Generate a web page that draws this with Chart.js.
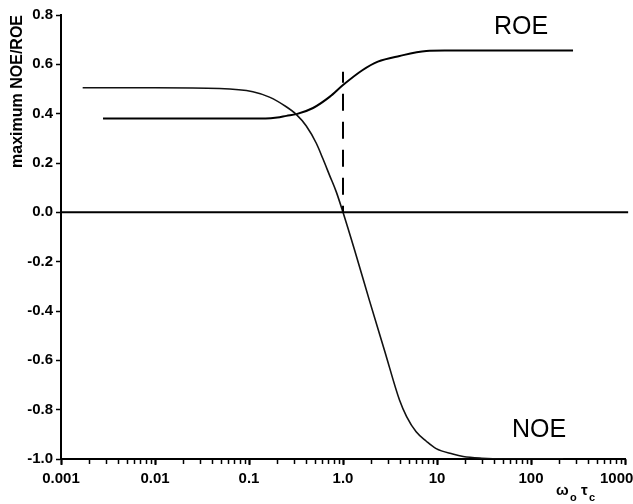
<!DOCTYPE html>
<html>
<head>
<meta charset="utf-8">
<script src="https://cdn.jsdelivr.net/npm/chart.js@4/dist/chart.umd.min.js"></script>
<style>
html,body{margin:0;padding:0;background:#fff;}
canvas{display:block;}
</style>
</head>
<body>
<canvas id="c" width="633" height="504"></canvas>
<script>
// ---- data ----
const noeX = [0.0017, 0.01, 0.0485, 0.11, 0.165, 0.249, 0.318, 0.407, 0.52, 0.61, 0.72, 0.85, 1.0, 1.33, 1.92, 2.77, 4.0, 4.75, 6.0, 7.7, 9.8, 14.7, 19, 30, 50, 220];
const noeY = [0.505, 0.505, 0.502, 0.489, 0.467, 0.428, 0.397, 0.350, 0.280, 0.218, 0.150, 0.082, 0.000, -0.154, -0.360, -0.561, -0.762, -0.828, -0.890, -0.928, -0.958, -0.980, -0.990, -0.997, -1.000, -1.000];
const roeX = [0.0028, 0.05, 0.15, 0.2, 0.25, 0.32, 0.48, 0.72, 1.0, 1.62, 2.35, 4.0, 7.7, 12, 280];
const roeY = [0.380, 0.380, 0.380, 0.384, 0.391, 0.398, 0.423, 0.468, 0.516, 0.577, 0.611, 0.634, 0.654, 0.656, 0.656];
const zeroLineX = [0.001, 1080];
const zeroLineY = [0, 0];
const markerX = [1.0, 1.0];
const markerY = [0.57, 0];
const xTickValues = [0.001, 0.01, 0.1, 1, 10, 100, 1000];
const xTickLabels = ['0.001', '0.01', '0.1', '1.0', '10', '100', '1000    '];
const xMinorMultipliers = [2, 3, 4, 5, 6, 7, 8, 9];
const yTickValues = [0.8, 0.6, 0.4, 0.2, 0, -0.2, -0.4, -0.6, -0.8, -1.0];
const yTickLabels = ['0.8', '0.6', '0.4', '0.2', '0.0', '-0.2', '-0.4', '-0.6', '-0.8', '-1.0'];
const yTitle = 'maximum NOE/ROE';
const curveLabels = ['ROE', 'NOE'];

const pts = (xs, ys) => xs.map((x, i) => ({x: x, y: ys[i]}));
const FONT = '"Liberation Sans", Arial, Helvetica, sans-serif';

// tick marks on the log axis, positioned through the x scale
const xTickMarks = {
  id: 'xTickMarks',
  afterDraw(chart) {
    const ctx = chart.ctx;
    const xs = chart.scales.x;
    const base = chart.chartArea.bottom;
    ctx.save();
    ctx.strokeStyle = '#000';
    xTickValues.forEach((v, i) => {
      const px = Math.round(xs.getPixelForValue(v)) + 0.5;
      ctx.lineWidth = 2;
      ctx.beginPath(); ctx.moveTo(px, base); ctx.lineTo(px, base + 6); ctx.stroke();
      if (i < xTickValues.length - 1) {
        xMinorMultipliers.forEach(m => {
          const p = Math.round(xs.getPixelForValue(v * m)) + 0.5;
          ctx.lineWidth = 1.5;
          ctx.beginPath(); ctx.moveTo(p, base); ctx.lineTo(p, base + 5); ctx.stroke();
        });
      }
    });
    ctx.restore();
  }
};

const textPlugin = {
  id: 'texts',
  afterDraw(chart) {
    const ctx = chart.ctx;
    ctx.save();
    ctx.fillStyle = '#000';
    ctx.textBaseline = 'alphabetic';
    ctx.textAlign = 'left';
    ctx.font = '25px ' + FONT;
    ctx.fillText(curveLabels[0], 494, 34);
    ctx.fillText(curveLabels[1], 512, 437);
    // x axis title: omega_o tau_c
    ctx.font = 'bold 15px ' + FONT;
    ctx.fillText('\u03C9', 556, 495);
    ctx.font = 'bold 11px ' + FONT;
    ctx.fillText('o', 570, 501);
    ctx.font = 'bold 15px ' + FONT;
    ctx.fillText('\u03C4', 581, 495);
    ctx.font = 'bold 11px ' + FONT;
    ctx.fillText('c', 589, 501);
    ctx.restore();
  }
};

new Chart(document.getElementById('c'), {
  type: 'line',
  data: {
    datasets: [
      {data: pts(zeroLineX, zeroLineY), borderColor: '#000', borderWidth: 2, pointRadius: 0, clip: false},
      {data: pts(markerX, markerY), borderColor: '#000', borderWidth: 2, pointRadius: 0, borderDash: [17, 11], borderDashOffset: 6},
      {data: pts(noeX, noeY), borderColor: '#111', borderWidth: 1.6, pointRadius: 0, cubicInterpolationMode: 'monotone'},
      {data: pts(roeX, roeY), borderColor: '#000', borderWidth: 2, pointRadius: 0, cubicInterpolationMode: 'monotone'}
    ]
  },
  options: {
    responsive: false,
    animation: false,
    devicePixelRatio: 1,
    layout: {padding: {top: 15, right: 8, left: 0, bottom: 0}},
    plugins: {legend: {display: false}, tooltip: {enabled: false}},
    scales: {
      x: {
        type: 'logarithmic',
        min: 0.001,
        max: 1000,
        border: {display: true, color: '#000', width: 2},
        grid: {
          display: true,
          drawOnChartArea: false,
          drawTicks: true,
          tickLength: 5,
          tickColor: '#000',
          tickWidth: 1.5
        },
        afterBuildTicks(scale) {
          scale.ticks = xTickValues.map(v => ({value: v}));
        },
        afterFit(scale) {
          scale.height = 45;
          scale.paddingLeft = 0;
          scale.paddingRight = 0;
        },
        ticks: {
          autoSkip: false,
          maxRotation: 0,
          minRotation: 0,
          padding: 6,
          color: '#000',
          font: {family: FONT, size: 15, weight: 'bold'},
          callback(value, index) {
            return xTickLabels[index];
          }
        }
      },
      y: {
        type: 'linear',
        min: -1.0,
        max: 0.8,
        border: {display: true, color: '#000', width: 2},
        grid: {drawOnChartArea: false, drawTicks: true, tickLength: 5, tickColor: '#000', tickWidth: 1.5},
        afterBuildTicks(scale) {
          scale.ticks = yTickValues.map(v => ({value: v}));
        },
        afterFit(scale) {
          scale.width = 61;
        },
        ticks: {
          padding: 3,
          color: '#000',
          font: {family: FONT, size: 15, weight: 'bold'},
          callback(value, index) {
            return yTickLabels[index];
          }
        },
        title: {
          display: true,
          text: yTitle,
          align: 'end',
          color: '#000',
          font: {family: FONT, size: 16, weight: 'bold'},
          padding: {top: 8, bottom: 0}
        }
      }
    }
  },
  plugins: [xTickMarks, textPlugin]
});
</script>
</body>
</html>
